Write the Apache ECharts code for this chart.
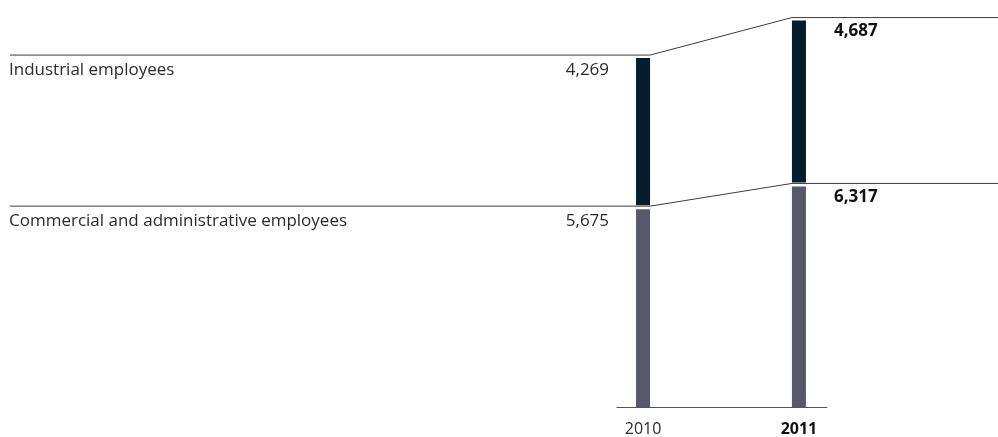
<!DOCTYPE html>
<html>
<head>
<meta charset="utf-8">
<style>
  html, body { margin: 0; padding: 0; background: #ffffff; }
  #chart { width: 998px; height: 437px; }
</style>
<script src="https://cdn.jsdelivr.net/npm/echarts@6/dist/echarts.min.js"></script>
</head>
<body>
<div id="chart"></div>
<script>
// Employees by type, 2010 vs 2011
const years = ['2010', '2011'];
const seriesNames = ['Commercial and administrative employees', 'Industrial employees'];
const commercial = [5675, 6317];
const industrial = [4269, 4687];

const FONT = 'Open Sans';
const NAVY = '#041c2c';
const GREY = '#575869';
const LINE = '#3c3c3c';
const TEXT = '#2b2b2b';
const fmt = v => v.toLocaleString('en-US');

const chart = echarts.init(document.getElementById('chart'), null, { renderer: 'canvas' });

// stacked levels: each layer sits on the previous one
const layers = [
  { name: seriesNames[0], values: commercial, color: GREY },
  { name: seriesNames[1], values: industrial, color: NAVY }
];
let base = years.map(() => 0);
const layerData = layers.map(l => {
  const rows = years.map((y, i) => [i, base[i], base[i] + l.values[i], l.values[i]]);
  base = base.map((b, i) => b + l.values[i]);
  return rows;
});

const BAR_W = 14;

function barSeries(layer, rows, z) {
  return {
    type: 'custom',
    name: layer.name,
    z: z,
    clip: false,
    data: rows,
    renderItem: function (params, api) {
      const x = api.value(0);
      const pTop = api.coord([x, api.value(2)]);
      const pBot = api.coord([x, api.value(1)]);
      const top = pTop[1] + 3;
      const bot = api.value(1) === 0 ? pBot[1] : pBot[1] - 1;
      return {
        type: 'rect',
        shape: { x: pTop[0] - BAR_W / 2, y: top, width: BAR_W, height: bot - top },
        style: { fill: layer.color }
      };
    }
  };
}

// connector line and labels for one stack level
function levelSeries(layer, rows) {
  return {
    type: 'custom',
    name: layer.name + ' level',
    z: 1,
    clip: false,
    silent: true,
    data: [0],
    renderItem: function (params, api) {
      const a = api.coord([0, rows[0][2]]);
      const b = api.coord([1, rows[1][2]]);
      const W = api.getWidth();
      const children = [
        {
          type: 'polyline',
          shape: { points: [[10, a[1]], [a[0] + BAR_W / 2, a[1]], [b[0] - BAR_W / 2, b[1]], [W, b[1]]] },
          style: { stroke: LINE, lineWidth: 1, fill: null }
        },
        {
          type: 'text',
          style: {
            text: layer.name, x: 9, y: a[1] + 15,
            fill: TEXT, font: '17px "' + FONT + '"', textAlign: 'left', textVerticalAlign: 'middle'
          }
        },
        {
          type: 'text',
          style: {
            text: fmt(rows[0][3]), x: a[0] - BAR_W / 2 - 27, y: a[1] + 15,
            fill: TEXT, font: '17px "' + FONT + '"', textAlign: 'right', textVerticalAlign: 'middle'
          }
        },
        {
          type: 'text',
          style: {
            text: fmt(rows[1][3]), x: b[0] + BAR_W / 2 + 28, y: b[1] + 14,
            fill: '#111111', font: 'bold 17px "' + FONT + '"', textAlign: 'left', textVerticalAlign: 'middle'
          }
        }
      ];
      return { type: 'group', children: children };
    }
  };
}

const option = {
  animation: false,
  backgroundColor: '#ffffff',
  grid: { left: 617, right: 171, top: 0, bottom: 29 },
  xAxis: {
    type: 'value',
    min: -0.167,
    max: 1.18,
    splitLine: { show: false },
    axisTick: { show: false },
    axisLine: { show: true, onZero: false, lineStyle: { color: '#555555', width: 1 } },
    axisLabel: {
      customValues: [0, 1],
      margin: 14,
      formatter: function (v) {
        const i = Math.round(v);
        return i === years.length - 1 ? '{b|' + years[i] + '}' : '{n|' + years[i] + '}';
      },
      rich: {
        n: { fontFamily: FONT, fontSize: 16, color: TEXT },
        b: { fontFamily: FONT, fontSize: 16, fontWeight: 'bold', color: '#111111' }
      }
    }
  },
  yAxis: {
    type: 'value',
    min: 0,
    max: 11500,
    show: false,
    splitLine: { show: false }
  },
  series: [
    levelSeries(layers[0], layerData[0]),
    levelSeries(layers[1], layerData[1]),
    barSeries(layers[0], layerData[0], 2),
    barSeries(layers[1], layerData[1], 2)
  ]
};

chart.setOption(option);
</script>
</body>
</html>
